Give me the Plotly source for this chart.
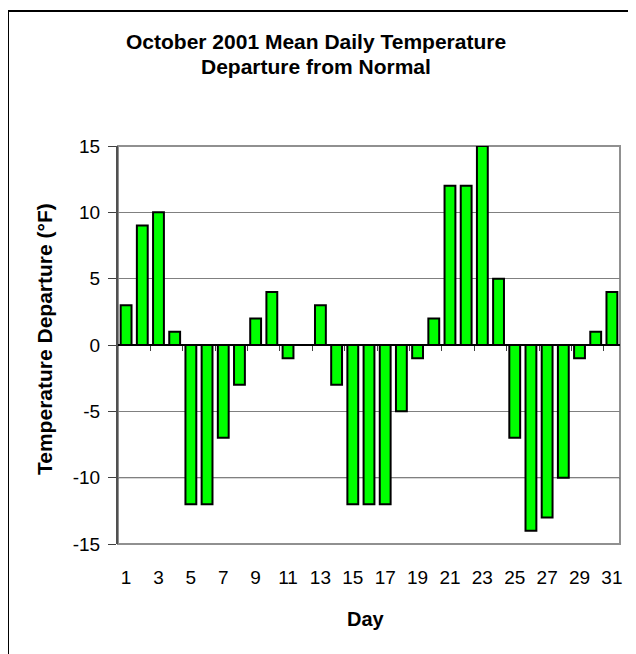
import plotly.graph_objects as go

days = list(range(1, 32))
departure = [3, 9, 10, 1, -12, -12, -7, -3, 2, 4, -1, 0, 3, -3, -12, -12, -12, -5, -1, 2,
             12, 12, 15, 5, -7, -14, -13, -10, -1, 1, 4]
x_tick_vals = list(range(1, 32, 2))
y_tick_vals = [-15, -10, -5, 0, 5, 10, 15]
y_tick_text = ["-15", "-10", "-5", "0", "5", "10", "15"]
boundary_ticks = [d + 0.5 for d in range(2, 31, 2)]

title_lines = ["October 2001 Mean Daily Temperature", "Departure from Normal"]
x_title = "Day"
y_title = "Temperature Departure (°F)"

FONT = "Liberation Sans, Arial, sans-serif"

# page is rendered with an 8px body margin; figure is sized to compensate
W, H = 628, 646
L, T, R, B = 110, 138, 16, 110
PW, PH = W - L - R, H - T - B


def px(xpage):
    return (xpage - 8 - L) / PW


def py(ypage):
    return (T + PH - (ypage - 8)) / PH


fig = go.Figure()
fig.add_trace(go.Bar(
    x=days, y=departure,
    marker=dict(color="#00FF00", line=dict(color="black", width=2)),
    hoverinfo="x+y",
))
fig.add_trace(go.Scatter(
    x=days, y=departure, xaxis="x2", mode="markers",
    marker=dict(opacity=0), hoverinfo="skip", showlegend=False,
))

fig.update_layout(
    width=W, height=H,
    margin=dict(l=L, r=R, t=T, b=B),
    paper_bgcolor="white", plot_bgcolor="white",
    showlegend=False,
    bargap=0.33,
    font=dict(family=FONT, size=19, color="black"),
    xaxis=dict(
        range=[0.5, 31.5], tickvals=x_tick_vals, ticks="", showgrid=False,
        zeroline=False, showline=False, ticklabelstandoff=20,
        tickfont=dict(size=19),
    ),
    xaxis2=dict(
        range=[0.5, 31.5], overlaying="x", anchor="free", position=0.5,
        tickvals=boundary_ticks, showticklabels=False, ticks="outside",
        ticklen=5, tickwidth=1, tickcolor="#404040", showgrid=False,
        zeroline=False, showline=False, layer="below traces",
    ),
    yaxis=dict(
        range=[-15, 15], tickvals=y_tick_vals, ticktext=y_tick_text,
        ticks="outside", ticklen=8,
        tickcolor="#404040", tickwidth=1, showgrid=True, gridcolor="#808080",
        gridwidth=1, zeroline=True, zerolinecolor="black", zerolinewidth=1.5,
        showline=True, linecolor="#505050", linewidth=2,
        tickfont=dict(size=19), ticklabelstandoff=4,
    ),
)

# titles as annotations for precise placement
fig.add_annotation(text=title_lines[0], xref="paper", yref="paper",
                   x=px(316), y=py(42), xanchor="center", yanchor="middle",
                   showarrow=False, font=dict(size=21, weight="bold"))
fig.add_annotation(text=title_lines[1], xref="paper", yref="paper",
                   x=px(316), y=py(67), xanchor="center", yanchor="middle",
                   showarrow=False, font=dict(size=21, weight="bold"))
fig.add_annotation(text=y_title, xref="paper", yref="paper",
                   x=px(44), y=py(339), xanchor="center", yanchor="middle",
                   textangle=-90, showarrow=False, font=dict(size=21, weight="bold"))
fig.add_annotation(text=x_title, xref="paper", yref="paper",
                   x=px(366), y=py(619), xanchor="center", yanchor="middle",
                   showarrow=False, font=dict(size=20, weight="bold"))

# plot-area border (gray) and Excel-style black -10 gridline
fig.add_shape(type="rect", xref="paper", yref="paper", x0=0, x1=1, y0=0, y1=1,
              line=dict(color="#909090", width=2), layer="below")
fig.add_hline(y=-10, line=dict(color="black", width=1), layer="below")

# outer chart-area border (cropped on right/bottom)
fig.add_shape(type="rect", xref="paper", yref="paper",
              x0=px(8), x1=px(660),
              y0=py(680), y1=py(11),
              line=dict(color="black", width=2), layer="below")

fig.write_html("out.html")
